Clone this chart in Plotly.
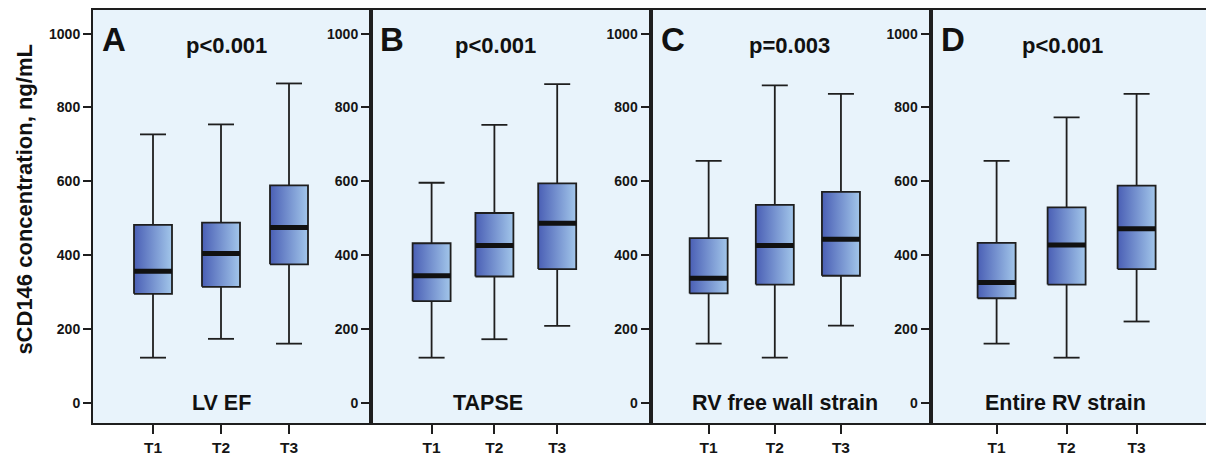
import plotly.graph_objects as go

# ---------------- data ----------------
categories = ["T1", "T2", "T3"]
panel_letters = ["A", "B", "C", "D"]
panel_titles = ["LV EF", "TAPSE", "RV free wall strain", "Entire RV strain"]
p_values = ["p<0.001", "p<0.001", "p=0.003", "p<0.001"]
y_ticks = [0, 200, 400, 600, 800, 1000]

# one row per panel (A..D), one value per category (T1..T3)
whisker_low = [[122, 173, 160], [122, 172, 208], [160, 122, 209], [160, 122, 220]]
q1 = [[295, 314, 375], [275, 342, 362], [296, 320, 344], [283, 320, 362]]
median = [[356, 404, 475], [344, 426, 486], [337, 426, 443], [326, 427, 471]]
q3 = [[482, 488, 589], [432, 514, 594], [446, 536, 571], [433, 529, 588]]
whisker_high = [[727, 754, 865], [596, 753, 863], [655, 860, 837], [655, 773, 837]]

# ---------------- layout / style ----------------
W, H = 1206, 456
ML, MT, MB, MR = 93, 10, 30, 0
PLOT_W = W - ML - MR
PLOT_H = H - MT - MB
panel_edges_px = [93, 371, 650.5, 930.5, 1206]
cat_step_px = [68, 62.8, 66.15, 70]       # pixel spacing between categories
first_cat_px = [60, 60.6, 58.15, 66.1]    # pixel offset of T1 from panel's left edge
BOX_W_PX = 38
CAP_W_PX = 26
Y_RANGE = [-55, 1064]

BG = "#e8f3fb"
LINE = "#1e1e1e"
GRAD = [[0, "#4a5fb5"], [1, "#a2c6ea"]]
FONT = "Liberation Sans, Arial, Helvetica, sans-serif"


def px_to_paper_x(px):
    return (px - ML) / PLOT_W


def px_to_paper_y(py):
    return (H - MB - py) / PLOT_H


fig = go.Figure()
layout_axes = {}

for p in range(4):
    suffix = "" if p == 0 else str(p + 1)
    xref, yref = "x" + suffix, "y" + suffix
    step = cat_step_px[p]
    half_box = BOX_W_PX / 2 / step
    half_cap = CAP_W_PX / 2 / step

    # gradient-filled boxes
    for j, cat in enumerate(categories):
        xs = [j - half_box, j + half_box, j + half_box, j - half_box, j - half_box]
        ys = [q1[p][j], q1[p][j], q3[p][j], q3[p][j], q1[p][j]]
        fig.add_trace(go.Scatter(
            x=xs, y=ys, xaxis=xref, yaxis=yref, mode="lines", fill="toself",
            fillgradient=dict(type="horizontal", colorscale=GRAD),
            line=dict(width=0, color="rgba(0,0,0,0)"), hoverinfo="skip", showlegend=False))

    # outlines + whiskers
    lx, ly = [], []
    for j, cat in enumerate(categories):
        lx += [j - half_box, j + half_box, j + half_box, j - half_box, j - half_box, None]
        ly += [q1[p][j], q1[p][j], q3[p][j], q3[p][j], q1[p][j], None]
        lx += [j, j, None, j - half_cap, j + half_cap, None]
        ly += [q3[p][j], whisker_high[p][j], None, whisker_high[p][j], whisker_high[p][j], None]
        lx += [j, j, None, j - half_cap, j + half_cap, None]
        ly += [q1[p][j], whisker_low[p][j], None, whisker_low[p][j], whisker_low[p][j], None]
    fig.add_trace(go.Scatter(
        x=lx, y=ly, xaxis=xref, yaxis=yref, mode="lines",
        line=dict(width=1.8, color=LINE), hoverinfo="skip", showlegend=False))

    # medians
    mx, my = [], []
    for j, cat in enumerate(categories):
        mx += [j - half_box, j + half_box, None]
        my += [median[p][j], median[p][j], None]
    fig.add_trace(go.Scatter(
        x=mx, y=my, xaxis=xref, yaxis=yref, mode="lines",
        line=dict(width=5, color="#111111"), hoverinfo="skip", showlegend=False))

    left_px, right_px = panel_edges_px[p], panel_edges_px[p + 1]
    width_px = right_px - left_px
    x_range = [-first_cat_px[p] / step, (width_px - first_cat_px[p]) / step]

    layout_axes["xaxis" + suffix] = dict(
        domain=[px_to_paper_x(left_px), min(1, px_to_paper_x(right_px))],
        range=x_range, tickmode="array", tickvals=list(range(len(categories))),
        ticktext=categories, ticks="outside", ticklen=9, tickwidth=1.6, tickcolor=LINE,
        showline=True, linecolor=LINE, linewidth=2, mirror=True,
        showgrid=False, zeroline=False, anchor=yref,
        tickfont=dict(family=FONT, size=15.5, color="#151515", weight="bold"),
        fixedrange=True)
    layout_axes["yaxis" + suffix] = dict(
        range=Y_RANGE, tickmode="array", tickvals=y_ticks,
        ticktext=[str(v) for v in y_ticks], ticks="outside", ticklen=8, tickwidth=1.6,
        tickcolor=LINE, showline=True, linecolor=LINE, linewidth=2,
        mirror=(p < 3), showgrid=False, zeroline=False, anchor=xref,
        tickfont=dict(family=FONT, size=14, color="#151515", weight="bold"),
        fixedrange=True)

annotations = []
letter_x_px = [114, 391.7, 673.3, 953.3]
pval_x_px = [226, 495, 789, 1062]
title_x_px = [221.7, 488, 785, 1065.5]
for p in range(4):
    annotations.append(dict(
        text=panel_letters[p], xref="paper", yref="paper",
        x=px_to_paper_x(letter_x_px[p]), y=px_to_paper_y(40), xanchor="center", yanchor="middle",
        showarrow=False, font=dict(family=FONT, size=33, color="#111111", weight="bold")))
    annotations.append(dict(
        text=p_values[p], xref="paper", yref="paper",
        x=px_to_paper_x(pval_x_px[p]), y=px_to_paper_y(46), xanchor="center", yanchor="middle",
        showarrow=False, font=dict(family=FONT, size=22, color="#111111", weight="bold")))
    annotations.append(dict(
        text=panel_titles[p], xref="paper", yref="paper",
        x=px_to_paper_x(title_x_px[p]), y=px_to_paper_y(406), xanchor="center", yanchor="middle",
        showarrow=False, font=dict(family=FONT, size=21.5, color="#111111", weight="bold")))

annotations.append(dict(
    text="sCD146 concentration, ng/mL", xref="paper", yref="paper",
    x=px_to_paper_x(25), y=px_to_paper_y(201), xanchor="center", yanchor="middle",
    textangle=-90, showarrow=False,
    font=dict(family=FONT, size=22, color="#111111", weight="bold")))

fig.update_layout(
    width=W, height=H,
    margin=dict(l=ML, r=MR, t=MT, b=MB, pad=0),
    paper_bgcolor="white", plot_bgcolor=BG,
    showlegend=False, annotations=annotations,
    **layout_axes)

fig.write_html("out.html", config=dict(displayModeBar=False))
